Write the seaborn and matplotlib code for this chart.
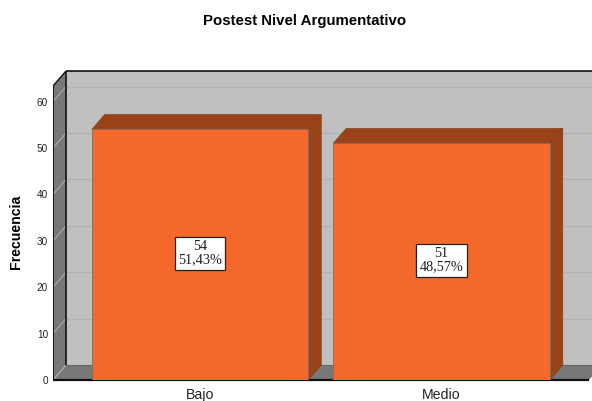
import matplotlib
matplotlib.use("Agg")
import matplotlib.pyplot as plt
from matplotlib.patches import Polygon
import seaborn as sns
import pandas as pd

categories = ["Bajo", "Medio"]
frecuencia = [54, 51]
porcentaje = ["51,43%", "48,57%"]
y_ticks = [0, 10, 20, 30, 40, 50, 60]

W, H = 592, 401
sns.set_theme(style="white")
plt.rcParams["font.family"] = ["Liberation Sans", "DejaVu Sans"]

FACE, DARK = "#F4682A", "#9A4319"
WALL, SIDE = "#C0C0C0", "#787878"

fig = plt.figure(figsize=(W / 100, H / 100), dpi=100, facecolor="white")
left, right, top, bottom = 53, 592, 71, 380
ax = fig.add_axes([left / W, 1 - bottom / H, (right - left) / W, (bottom - top) / H])

df = pd.DataFrame({"Categoria": categories, "Frecuencia": frecuencia})
sns.barplot(data=df, x="Categoria", y="Frecuencia", color=FACE, saturation=1,
            width=0.897, edgecolor="#8A6A55", linewidth=0.6, ax=ax, zorder=3)
bars = list(ax.patches)

px_y = 4.64           # pixels per unit of frequency
px_x = 241.5          # pixels per category step
x0 = 200.0            # pixel of first category centre
ax.set_ylim(0, (bottom - top) / px_y)
ax.set_xlim((left - x0) / px_x, (right - x0) / px_x)
dx, dy = 13 / px_x, 15 / px_y
xl, xr = ax.get_xlim()
yt = ax.get_ylim()[1]
x_end = xr - 3 / px_x


def poly(pts, fc, ec="none", lw=0.0, z=1):
    ax.add_patch(Polygon(pts, closed=True, facecolor=fc, edgecolor=ec, linewidth=lw, zorder=z))


# back wall, left wall, floor
poly([(xl + dx, dy), (xr + dx, dy), (xr + dx, yt), (xl + dx, yt)], WALL, z=0.5)
poly([(xl, 0), (xl + dx, dy), (xl + dx, yt), (xl, yt - dy)], SIDE, z=0.6)
poly([(xl, 0), (x_end, 0), (x_end + dx, dy), (xl + dx, dy)], SIDE, z=0.6)

for t in y_ticks:
    if t > 0:
        ax.plot([xl + dx, xr], [t + dy, t + dy], color="#B2B2B2", lw=1.0, zorder=0.8)
    ax.plot([xl, xl + dx], [t, t + dy], color="#A8A8A8", lw=0.9, zorder=0.8)

# frame lines
k = dict(color="#111111", zorder=1, solid_capstyle="butt")
ax.plot([xl + dx, xr], [yt - 0.08, yt - 0.08], lw=1.2, clip_on=False, **k)
ax.plot([xl + dx, xl + dx], [dy, yt], lw=1.2, **k)
ax.plot([xl, xl + dx], [yt - dy, yt], lw=1.0, **k)
ax.plot([xl + 0.001, xl + 0.001], [0, yt - dy], lw=1.4, **k)
ax.plot([xl, x_end], [0.05, 0.05], lw=1.6, clip_on=False, **k)
ax.plot([xl + dx, xr], [dy, dy], color="#666666", lw=0.8, zorder=0.9)

# 3D top and side faces built from the drawn bars
for bar in bars:
    x, w, h = bar.get_x(), bar.get_width(), bar.get_height()
    poly([(x, h), (x + w, h), (x + w + dx, h + dy), (x + dx, h + dy)], DARK, "#7E3A18", 0.4, 2.5)
    poly([(x + w, 0), (x + w + dx, dy), (x + w + dx, h + dy), (x + w, h)], DARK, "#7E3A18", 0.4, 2.5)

for i, (v, p) in enumerate(zip(frecuencia, porcentaje)):
    ax.annotate(f"{v}\n{p}", xy=(i, v / 2), xytext=(0, 1.0), textcoords="offset points",
                ha="center", va="center", family="Liberation Serif",
                fontsize=10.3, color="#222222", linespacing=1.0, zorder=5,
                bbox=dict(boxstyle="square,pad=0.24", facecolor="white", edgecolor="#222222", linewidth=0.9))

ax.set_yticks(y_ticks)
ax.set_yticklabels([str(t) for t in y_ticks], fontsize=7.2, color="#222222")
ax.set_xticks(range(len(categories)))
ax.set_xticklabels(categories, fontsize=10.2, color="#222222")
ax.tick_params(axis="both", length=0)
ax.tick_params(axis="y", pad=3.5)
ax.tick_params(axis="x", pad=5.5)
ax.set_xlabel("")
ax.set_ylabel("Frecuencia", fontsize=10.2, fontweight="bold", color="black")
ax.yaxis.set_label_coords((23.5 - left) / (right - left), (bottom - 232) / (bottom - top))
for s in ax.spines.values():
    s.set_visible(False)

fig.text(305 / W, 1 - 21 / H, "Postest Nivel Argumentativo", ha="center", va="center",
         fontsize=10.8, fontweight="bold", color="black")

fig.savefig("out.png", dpi=100)
